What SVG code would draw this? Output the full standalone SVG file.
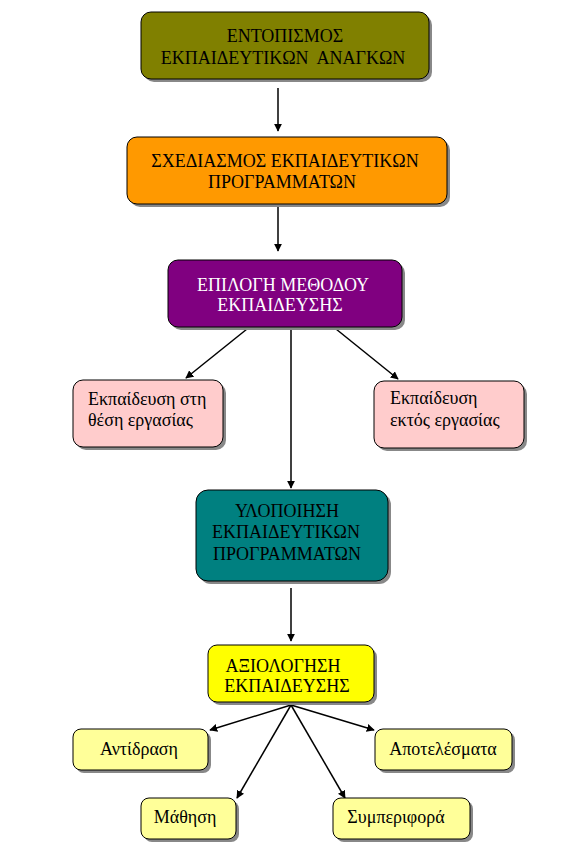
<svg xmlns="http://www.w3.org/2000/svg" width="583" height="848" viewBox="0 0 583 848">
<defs>
<marker id="ah" viewBox="0 0 10 10" refX="9" refY="5" markerWidth="8" markerHeight="8" markerUnits="userSpaceOnUse" orient="auto">
<path d="M0,0 L10,5 L0,10 z" fill="#000"/>
</marker>
</defs>
<style>
.box{stroke:#000;stroke-width:1}
.sh{fill:#888;stroke:none}
.t{font-family:"Liberation Serif","Times New Roman","DejaVu Serif",serif;font-size:18px;fill:#000}
.c{text-anchor:middle}
.w{fill:#fff}
.ln{stroke:#000;stroke-width:1.5;fill:none;marker-end:url(#ah)}
</style>
<rect width="583" height="848" fill="#fff"/>
<g id="connectors">
<line class="ln" x1="278" y1="88" x2="278" y2="131"/>
<line class="ln" x1="278" y1="207" x2="278" y2="251"/>
<line class="ln" x1="247" y1="329" x2="186" y2="378"/>
<line class="ln" x1="336" y1="329" x2="398" y2="379"/>
<line class="ln" x1="291" y1="330" x2="291" y2="488"/>
<line class="ln" x1="291" y1="588" x2="291" y2="641"/>
<line class="ln" x1="291" y1="705" x2="210" y2="730"/>
<line class="ln" x1="291" y1="705" x2="374" y2="730"/>
<line class="ln" x1="291" y1="705" x2="237" y2="798"/>
<line class="ln" x1="291" y1="705" x2="345" y2="798"/>
</g>
<g id="n1">
<rect class="sh" x="144" y="15" width="288" height="67" rx="10"/>
<rect class="box" x="141" y="12" width="288" height="67" rx="10" fill="#808000"/>
<text class="t c" x="285" y="42">ΕΝΤΟΠΙΣΜΟΣ</text>
<text class="t c" x="283" y="64">ΕΚΠΑΙΔΕΥΤΙΚΩΝ&#160; ΑΝΑΓΚΩΝ</text>
</g>
<g id="n2">
<rect class="sh" x="130" y="140" width="320" height="67" rx="10"/>
<rect class="box" x="127" y="137" width="320" height="67" rx="10" fill="#ff9900"/>
<text class="t c" x="285" y="167">ΣΧΕΔΙΑΣΜΟΣ ΕΚΠΑΙΔΕΥΤΙΚΩΝ</text>
<text class="t c" x="282" y="188">ΠΡΟΓΡΑΜΜΑΤΩΝ</text>
</g>
<g id="n3">
<rect class="sh" x="171" y="263" width="234" height="67" rx="10"/>
<rect class="box" x="168" y="260" width="234" height="67" rx="10" fill="#800080"/>
<text class="t c w" x="283" y="291">ΕΠΙΛΟΓΗ ΜΕΘΟΔΟΥ</text>
<text class="t c w" x="280" y="311">ΕΚΠΑΙΔΕΥΣΗΣ</text>
</g>
<g id="n4">
<rect class="sh" x="76" y="383" width="150" height="67" rx="10"/>
<rect class="box" x="73" y="380" width="150" height="67" rx="10" fill="#ffcccc"/>
<text class="t" x="88" y="405">Εκπαίδευση στη</text>
<text class="t" x="88" y="426">θέση εργασίας</text>
</g>
<g id="n5">
<rect class="sh" x="377" y="384" width="150" height="67" rx="10"/>
<rect class="box" x="374" y="381" width="150" height="67" rx="10" fill="#ffcccc"/>
<text class="t" x="390" y="404">Εκπαίδευση</text>
<text class="t" x="390" y="426">εκτός εργασίας</text>
</g>
<g id="n6">
<rect class="sh" x="199" y="493" width="192" height="91" rx="12"/>
<rect class="box" x="196" y="490" width="192" height="91" rx="12" fill="#008080"/>
<text class="t c" x="287" y="517">ΥΛΟΠΟΙΗΣΗ</text>
<text class="t c" x="286" y="538">ΕΚΠΑΙΔΕΥΤΙΚΩΝ</text>
<text class="t c" x="287" y="560">ΠΡΟΓΡΑΜΜΑΤΩΝ</text>
</g>
<g id="n7">
<rect class="sh" x="211" y="648" width="166" height="57" rx="9"/>
<rect class="box" x="208" y="645" width="166" height="57" rx="9" fill="#ffff00"/>
<text class="t c" x="283" y="672">ΑΞΙΟΛΟΓΗΣΗ</text>
<text class="t c" x="287" y="692">ΕΚΠΑΙΔΕΥΣΗΣ</text>
</g>
<g id="n8">
<rect class="sh" x="76" y="732" width="135" height="41" rx="8"/>
<rect class="box" x="73" y="729" width="135" height="41" rx="8" fill="#ffff99"/>
<text class="t c" x="139" y="755">Αντίδραση</text>
</g>
<g id="n9">
<rect class="sh" x="378" y="732" width="137" height="41" rx="8"/>
<rect class="box" x="375" y="729" width="137" height="41" rx="8" fill="#ffff99"/>
<text class="t c" x="443" y="755">Αποτελέσματα</text>
</g>
<g id="n10">
<rect class="sh" x="144" y="801" width="95" height="41" rx="8"/>
<rect class="box" x="141" y="798" width="95" height="41" rx="8" fill="#ffff99"/>
<text class="t c" x="185" y="823">Μάθηση</text>
</g>
<g id="n11">
<rect class="sh" x="336" y="801" width="137" height="41" rx="8"/>
<rect class="box" x="333" y="798" width="137" height="41" rx="8" fill="#ffff99"/>
<text class="t c" x="396" y="823">Συμπεριφορά</text>
</g>
</svg>
